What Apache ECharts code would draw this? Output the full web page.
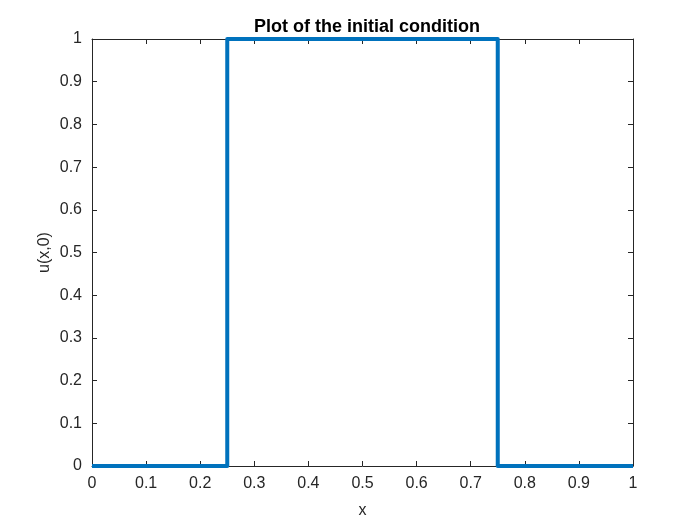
<!DOCTYPE html>
<html>
<head>
<meta charset="utf-8">
<script src="https://cdn.jsdelivr.net/npm/echarts@6/dist/echarts.min.js"></script>
<style>html,body{margin:0;padding:0;background:#fff;}#c{width:700px;height:525px;}</style>
</head>
<body>
<div id="c"></div>
<script>
var xValues = [0, 0.25, 0.25, 0.75, 0.75, 1];
var uValues = [0, 0, 1, 1, 0, 0];
var xTicks = [0, 0.1, 0.2, 0.3, 0.4, 0.5, 0.6, 0.7, 0.8, 0.9, 1];
var yTicks = [0, 0.1, 0.2, 0.3, 0.4, 0.5, 0.6, 0.7, 0.8, 0.9, 1];

var chart = echarts.init(document.getElementById('c'), null, {renderer: 'canvas'});
var font = 'Liberation Sans, Arial, sans-serif';
var axisCol = '#262626';
function fmt(v){ return String(Math.round(v*10)/10); }
var baseAxis = {
  min: 0, max: 1, interval: 0.1,
  axisLine: {show: true, onZero: false, lineStyle: {color: axisCol, width: 1}},
  axisTick: {show: true, inside: true, length: 5, lineStyle: {color: axisCol}},
  splitLine: {show: false}
};
chart.setOption({
  animation: false,
  backgroundColor: '#fff',
  title: {
    text: 'Plot of the initial condition', left: 249, top: 13,
    textStyle: {fontFamily: font, fontSize: 18, fontWeight: 'bold', color: '#000'}
  },
  grid: {left: 92, right: 67, top: 39, bottom: 59, containLabel: false},
  xAxis: [
    Object.assign({}, baseAxis, {
      type: 'value', position: 'bottom',
      name: 'x', nameLocation: 'middle', nameGap: 37, nameMoveOverlap: false,
      nameTextStyle: {fontFamily: font, fontSize: 16, color: axisCol},
      axisLabel: {show: true, margin: 10, fontFamily: font, fontSize: 16, color: axisCol, formatter: fmt}
    }),
    Object.assign({}, baseAxis, {type: 'value', position: 'top', axisLabel: {show: false}})
  ],
  yAxis: [
    Object.assign({}, baseAxis, {
      type: 'value', position: 'left',
      name: 'u(x,0)', nameLocation: 'middle', nameGap: 39, nameMoveOverlap: false,
      nameTextStyle: {fontFamily: font, fontSize: 16, color: axisCol},
      axisLabel: {show: true, margin: 10, fontFamily: font, fontSize: 16, color: axisCol, formatter: fmt}
    }),
    Object.assign({}, baseAxis, {type: 'value', position: 'right', axisLabel: {show: false}})
  ],
  series: [{
    type: 'line',
    xAxisIndex: 0, yAxisIndex: 0,
    data: xValues.map(function(x, i){ return [x, uValues[i]]; }),
    symbol: 'none',
    clip: false,
    lineStyle: {color: '#0072BD', width: 4, join: 'round'}
  }]
});
</script>
</body>
</html>
